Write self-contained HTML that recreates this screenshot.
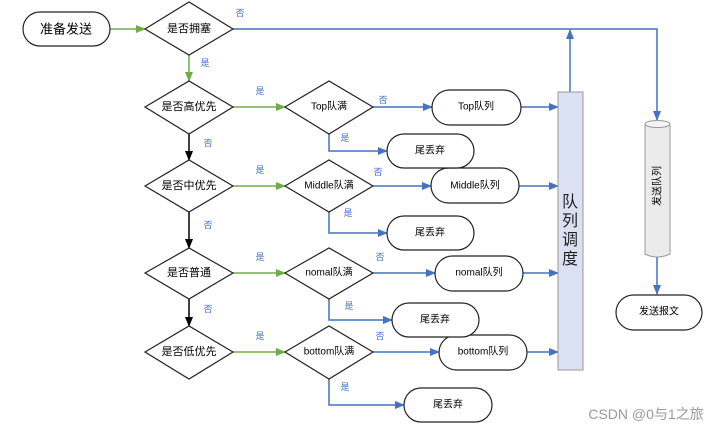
<!DOCTYPE html>
<html><head><meta charset="utf-8"><style>
html,body{margin:0;padding:0;background:#fff;}
svg{display:block;font-family:"Liberation Sans","Noto Sans CJK SC",sans-serif;}
</style></head><body>
<svg width="728" height="432" viewBox="0 0 728 432" xmlns="http://www.w3.org/2000/svg">
<defs>
<marker id="g" markerWidth="10" markerHeight="10" refX="9" refY="5" orient="auto" markerUnits="userSpaceOnUse"><path d="M0,1 L10,5 L0,9z" fill="#70ad47"/></marker>
<marker id="b" markerWidth="10" markerHeight="10" refX="9" refY="5" orient="auto" markerUnits="userSpaceOnUse"><path d="M0,1 L10,5 L0,9z" fill="#4472c4"/></marker>
<marker id="k" markerWidth="10" markerHeight="10" refX="9" refY="5" orient="auto" markerUnits="userSpaceOnUse"><path d="M0,1 L10,5 L0,9z" fill="#000"/></marker>
</defs>
<g fill="none" stroke-width="1.5">
<!-- green -->
<g stroke="#70ad47" marker-end="url(#g)">
<line x1="110" y1="29" x2="145" y2="29"/>
<line x1="189" y1="55" x2="189" y2="81"/>
<line x1="233" y1="107" x2="285" y2="107"/>
<line x1="233" y1="186" x2="285" y2="186"/>
<line x1="233" y1="273" x2="285" y2="273"/>
<line x1="233" y1="352" x2="285" y2="352"/>
</g>
<g stroke="#000" marker-end="url(#k)">
<line x1="189" y1="134" x2="189" y2="160"/>
<line x1="189" y1="212" x2="189" y2="248"/>
<line x1="189" y1="299" x2="189" y2="326"/>
</g>
<g stroke="#4472c4" marker-end="url(#b)">
<polyline points="233,29 657,29 657,120"/>
<line x1="570" y1="92" x2="570" y2="30"/>
<line x1="657" y1="257" x2="657" y2="294"/>
<line x1="373" y1="107" x2="432" y2="107"/>
<line x1="373" y1="186" x2="431" y2="186"/>
<line x1="373" y1="273" x2="435" y2="273"/>
<line x1="373" y1="352" x2="439" y2="352"/>
<line x1="521" y1="107" x2="558" y2="107"/>
<line x1="519" y1="186" x2="558" y2="186"/>
<line x1="523" y1="273" x2="558" y2="273"/>
<line x1="527" y1="352" x2="558" y2="352"/>
<polyline points="329,134 329,151 387,151"/>
<polyline points="329,212 329,233 387,233"/>
<polyline points="329,299 329,320 392,320"/>
<polyline points="329,379 329,405 404,405"/>
</g>
</g>
<g fill="#fff" stroke="#222" stroke-width="1.2">
<rect x="23" y="12" width="87" height="34" rx="17"/>
<polygon points="145,29 189,2 233,29 189,55"/>
<polygon points="145,107 189,81 233,107 189,134"/>
<polygon points="145,186 189,160 233,186 189,212"/>
<polygon points="145,273 189,248 233,273 189,299"/>
<polygon points="145,352 189,326 233,352 189,379"/>
<polygon points="285,107 329,81 373,107 329,134"/>
<polygon points="285,186 329,160 373,186 329,212"/>
<polygon points="285,273 329,248 373,273 329,299"/>
<polygon points="285,352 329,326 373,352 329,379"/>
<rect x="432" y="90" width="89" height="35" rx="17.5"/>
<rect x="431" y="168" width="88" height="35" rx="17.5"/>
<rect x="435" y="256" width="88" height="35" rx="17.5"/>
<rect x="439" y="335" width="88" height="35" rx="17.5"/>
<rect x="387" y="134" width="87" height="34" rx="17"/>
<rect x="387" y="216" width="87" height="34" rx="17"/>
<rect x="392" y="303" width="87" height="34" rx="17"/>
<rect x="404" y="388" width="88" height="34" rx="17"/>
<rect x="616" y="295" width="86" height="35" rx="17.5"/>
</g>
<rect x="558" y="92" width="25" height="278" fill="#dae1f3" stroke="#999" stroke-width="1"/>
<path d="M645,124 L645,254 Q657,260 670,254 L670,124" fill="#ebebeb" stroke="#999"/>
<ellipse cx="657.5" cy="124" rx="12.5" ry="3.5" fill="#f4f4f4" stroke="#999"/>
<g font-size="11" fill="#000" text-anchor="middle" dominant-baseline="central">
<text x="66" y="29" font-size="13">准备发送</text>
<text x="189" y="29">是否拥塞</text>
<text x="189" y="107">是否高优先</text>
<text x="189" y="186">是否中优先</text>
<text x="189" y="273">是否普通</text>
<text x="189" y="352">是否低优先</text>
<text x="329" y="107" font-size="10">Top队满</text>
<text x="329" y="186" font-size="10">Middle队满</text>
<text x="329" y="273" font-size="10">nomal队满</text>
<text x="329" y="352" font-size="10">bottom队满</text>
<text x="476" y="107" font-size="10">Top队列</text>
<text x="475" y="186" font-size="10">Middle队列</text>
<text x="479" y="273" font-size="10">nomal队列</text>
<text x="483" y="352" font-size="10">bottom队列</text>
<text x="430" y="151" font-size="10">尾丢弃</text>
<text x="430" y="233" font-size="10">尾丢弃</text>
<text x="435" y="320" font-size="10">尾丢弃</text>
<text x="448" y="405" font-size="10">尾丢弃</text>
<text x="659" y="312" font-size="10">发送报文</text>
<text x="658" y="186" font-size="10" transform="rotate(-90 658 186)">发送队列</text>
</g>
<g font-size="16" fill="#222" text-anchor="middle">
<text x="570" y="207">队</text><text x="570" y="226">列</text><text x="570" y="245">调</text><text x="570" y="264">度</text>
</g>
<g font-size="9" fill="#4472c4" text-anchor="middle">
<text x="240" y="16">否</text>
<text x="205" y="66">是</text>
<text x="260" y="94">是</text><text x="260" y="173">是</text><text x="260" y="260">是</text><text x="260" y="339">是</text>
<text x="208" y="146">否</text><text x="208" y="228">否</text><text x="208" y="312">否</text>
<text x="345" y="141">是</text><text x="348" y="216">是</text><text x="349" y="309">是</text><text x="345" y="390">是</text>
<text x="383" y="103">否</text><text x="378" y="175">否</text><text x="380" y="260">否</text><text x="380" y="339">否</text>
</g>
<text x="646" y="419" font-size="14" fill="#9a9a9a" text-anchor="middle">CSDN @0与1之旅</text>
</svg>
</body></html>
